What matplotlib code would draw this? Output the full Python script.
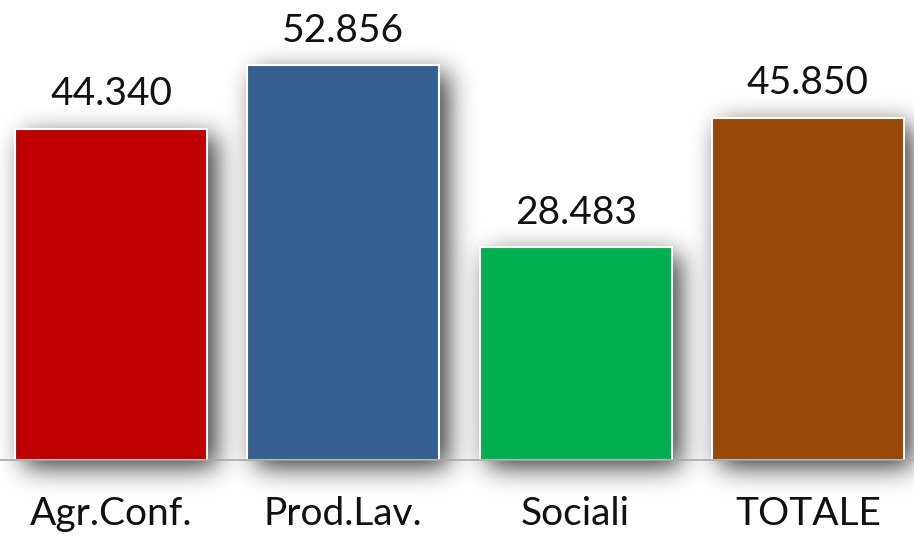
import matplotlib
matplotlib.use("Agg")
import matplotlib.pyplot as plt
import numpy as np

categories = ["Agr.Conf.", "Prod.Lav.", "Sociali", "TOTALE"]
values = [44.340, 52.856, 28.483, 45.850]
labels = ["44.340", "52.856", "28.483", "45.850"]
colors = ["#c00000", "#355f91", "#00b050", "#984807"]

plt.rcParams['font.family'] = ['Lato', 'DejaVu Sans']

fig = plt.figure(figsize=(9.14, 5.42), dpi=100)
fig.patch.set_facecolor("white")
ax = fig.add_axes([0, 0.1513, 1, 0.8487])
ax.set_zorder(1)
ax.patch.set_alpha(0)

x = np.arange(len(categories))
bars = ax.bar(x, values, width=0.8265, color=colors, edgecolor="white", linewidth=1.5)
ax.set_xlim(-0.478, 3.457)
ax.set_ylim(0, 61.62)

for xi, v, lab in zip(x, values, labels):
    ax.annotate(lab, (xi, v), xytext=(0, 17), textcoords="offset points",
                ha="center", va="baseline", fontsize=28, color="#111111")

ax.set_xticks(x)
ax.set_xticklabels(categories, fontsize=28, color="#111111")
ax.tick_params(axis="x", length=0, pad=26)
ax.set_yticks([])
for s in ["top", "left", "right"]:
    ax.spines[s].set_visible(False)
ax.spines["bottom"].set_color("#a6a6a6")
ax.spines["bottom"].set_linewidth(1.2)

# soft drop shadow behind each bar, built from the bars' pixel extents
fig.canvas.draw()
H, W = 542, 914
mask = np.zeros((H, W))
dx, dy = 9, 7
for b in bars:
    ext = b.get_window_extent()
    x0, x1 = int(ext.x0) + dx, int(ext.x1) + dx
    y0, y1 = H - int(ext.y1) + dy, H - int(ext.y0) + dy
    mask[max(y0, 0):min(y1, H), max(x0, 0):min(x1, W)] = 1.0

sigma = 13.0
k = np.arange(-45, 46)
kern = np.exp(-k ** 2 / (2 * sigma ** 2))
kern /= kern.sum()
pad = 50
big = np.pad(mask, pad, mode="constant")
blur = np.apply_along_axis(lambda r: np.convolve(r, kern, mode="same"), 1, big)
blur = np.apply_along_axis(lambda c: np.convolve(c, kern, mode="same"), 0, blur)
blur = blur[pad:-pad, pad:-pad]

shadow = np.zeros((H, W, 4))
shadow[..., 3] = np.clip(blur * 0.8, 0, 1)
fig.figimage(shadow, xo=0, yo=0, origin="upper", zorder=0)

fig.savefig("out.png", dpi=100, facecolor="white")
